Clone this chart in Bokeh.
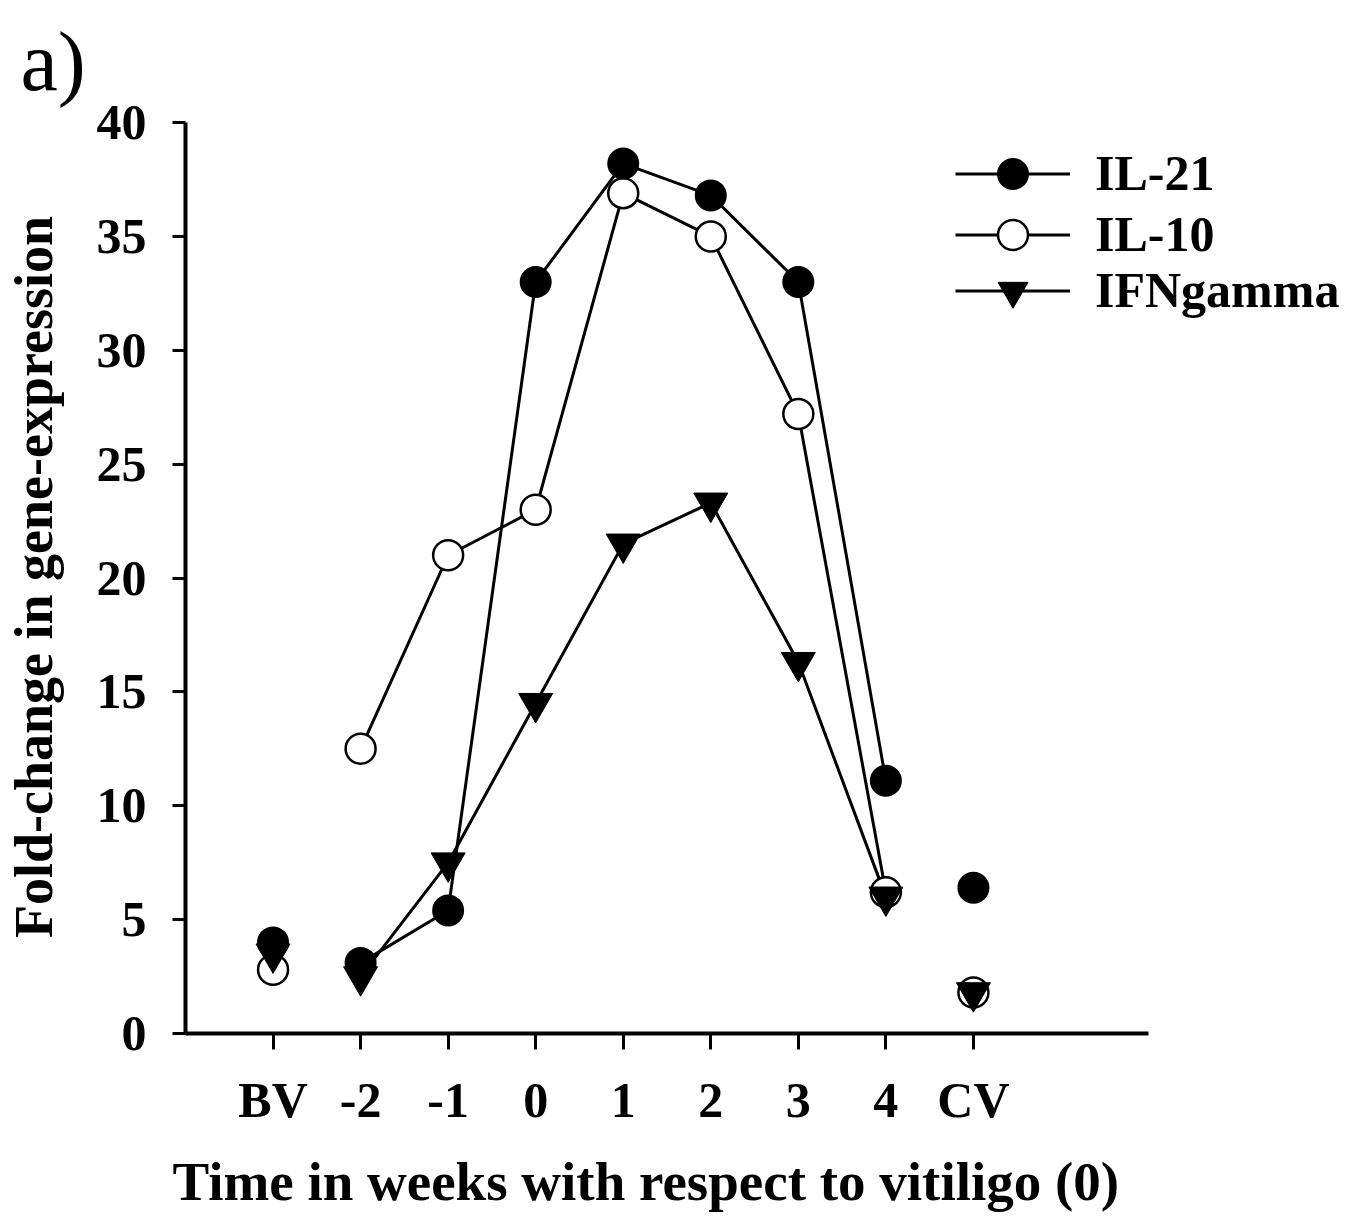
from bokeh.plotting import figure
from bokeh.models import Range1d, FixedTicker, Legend, LegendItem, ColumnDataSource, Title
from bokeh.embed import file_html
from bokeh.resources import INLINE

categories = ["BV", "-2", "-1", "0", "1", "2", "3", "4", "CV"]
il21 = [4.0, 3.1, 5.4, 33.0, 38.2, 36.8, 33.0, 11.1, 6.4]
il10 = [2.8, 12.5, 21.0, 23.0, 36.9, 35.0, 27.2, 6.2, 1.8]
ifng = [3.5, 2.5, 7.5, 14.5, 21.5, 23.3, 16.3, 6.0, 1.8]
y_ticks = [0, 5, 10, 15, 20, 25, 30, 35, 40]
series_names = ["IL-21", "IL-10", "IFNgamma"]
x_title = "Time in weeks with respect to vitiligo (0)"
y_title = "Fold-change in gene-expression"

xs = list(range(1, len(categories) + 1))
src = ColumnDataSource(dict(x=xs, il21=il21, il10=il10, ifng=ifng))
# connected segment: weeks -2 .. 4 (BV and CV are stand-alone points)
seg = ColumnDataSource(dict(x=xs[1:8], il21=il21[1:8], il10=il10[1:8], ifng=ifng[1:8]))

FONT = "Liberation Serif"

p = figure(width=1366, height=1230, output_backend="svg", toolbar_location=None,
           x_range=Range1d(0, 13.49), y_range=Range1d(0, 40.09),
           min_border_left=185, min_border_right=0, min_border_top=120,
           min_border_bottom=196)
p.title = Title(text="a)", align="left", offset=-165, standoff=25,
                text_font=FONT, text_font_size="84px", text_font_style="normal",
                text_line_height=1.0, text_color="black")
p.outline_line_color = None
p.grid.visible = False
p.background_fill_color = "white"

l21 = p.line("x", "il21", source=seg, line_color="black", line_width=3)
l10 = p.line("x", "il10", source=seg, line_color="black", line_width=3)
lif = p.line("x", "ifng", source=seg, line_color="black", line_width=3)

s10 = p.scatter("x", "il10", source=src, marker="circle", size=30,
                fill_color="white", line_color="black", line_width=2.5)
sif = p.scatter("x", "ifng", source=src, marker="inverted_triangle", size=34,
                fill_color="black", line_color="black", line_width=1)
s21 = p.scatter("x", "il21", source=src, marker="circle", size=30,
                fill_color="black", line_color="black", line_width=2)

xa = p.xaxis[0]
ya = p.yaxis[0]
xa.ticker = FixedTicker(ticks=xs)
xa.major_label_overrides = {x: c for x, c in zip(xs, categories)}
xa.bounds = (0, 11)
ya.ticker = FixedTicker(ticks=y_ticks)
ya.bounds = (0, 40)
xa.major_tick_out = 16
ya.major_tick_out = 13
xa.major_label_standoff = 22
ya.major_label_standoff = 26
ya.axis_label = y_title
ya.axis_label_standoff = 30
for ax in (xa, ya):
    ax.axis_line_width = 4
    ax.axis_line_color = "black"
    ax.major_tick_line_width = 3
    ax.major_tick_line_color = "black"
    ax.major_tick_in = 0
    ax.minor_tick_line_color = None
    ax.major_label_text_font = FONT
    ax.major_label_text_font_style = "bold"
    ax.major_label_text_font_size = "50px"
    ax.major_label_text_color = "black"
    ax.axis_label_text_font = FONT
    ax.axis_label_text_font_style = "bold"
    ax.axis_label_text_color = "black"
ya.axis_label_text_font_size = "54px"

# x-axis title, centred under the 0..11 axis span (not the wider frame)
p.add_layout(Title(text=x_title, align="left", offset=-13, text_font=FONT,
                   text_font_size="55px", text_font_style="bold", text_color="black",
                   standoff=37), "below")

frame_h = 1034 - 120
row_centers = [174 - 120, 235 - 120, 291 - 120]  # px below frame top
for name, rends, rc in zip(series_names, [[l21, s21], [l10, s10], [lif, sif]], row_centers):
    lg = Legend(items=[LegendItem(label=name, renderers=rends)],
                location=(770, frame_h - rc - 37.5), glyph_width=115, glyph_height=75,
                label_standoff=25, label_text_font=FONT, label_text_font_style="bold",
                label_text_font_size="50px", label_text_color="black",
                padding=0, margin=0, border_line_color=None, background_fill_alpha=0)
    p.add_layout(lg)

open("out.html", "w").write(file_html(p, INLINE))
